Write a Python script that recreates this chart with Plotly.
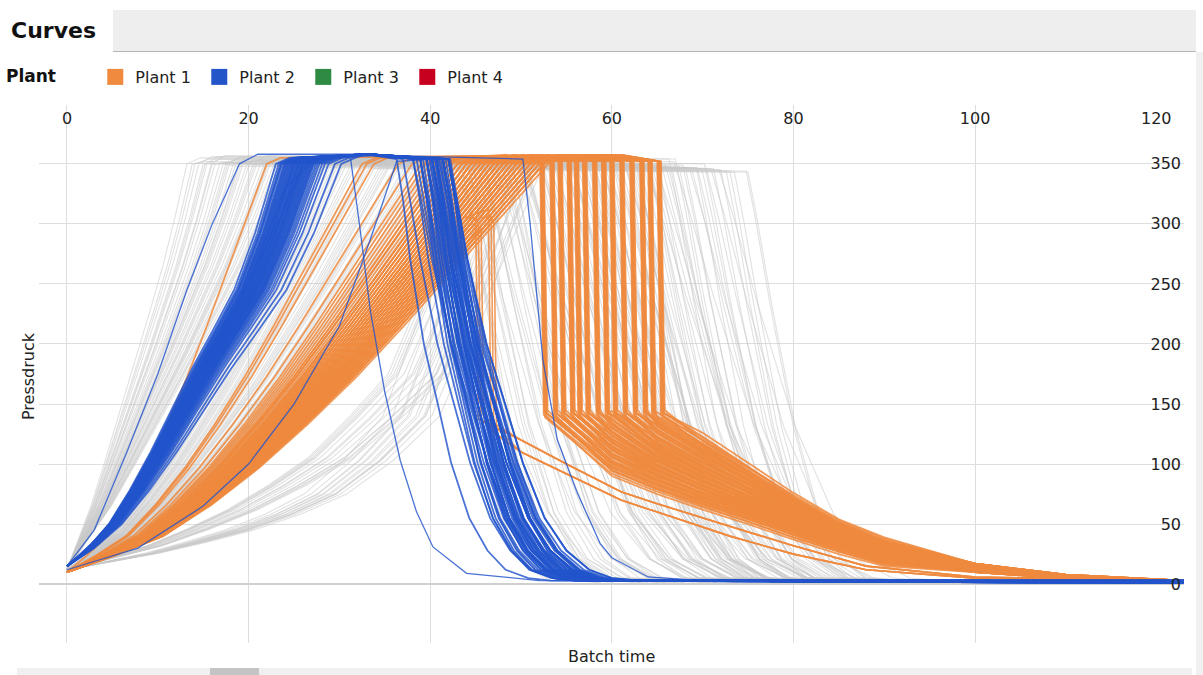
import plotly.graph_objects as go

# ---------------- axes / legend ----------------
X_TICKS = [0, 20, 40, 60, 80, 100, 120]
Y_TICKS = [0, 50, 100, 150, 200, 250, 300, 350]
PLANTS = ["Plant 1", "Plant 2", "Plant 3", "Plant 4"]
PLANT_COLORS = ["#ef8a3f", "#2354c8", "#2e8b43", "#c8001f"]

# ---------------- rise profiles (fraction of rise time -> Pressdruck) ----------------
RISE_U = [0, 0.1, 0.2, 0.3, 0.4, 0.5, 0.6, 0.7, 0.8, 0.9, 1.0]
RISE_BLUE = [15, 30, 50, 78, 110, 145, 180, 212, 245, 292, 350]
RISE_ORANGE = [10, 24, 40, 66, 97, 133, 172, 215, 260, 305, 350]
RISE_GREY_FAST = [12, 38, 65, 97, 130, 162, 195, 230, 265, 305, 350]
RISE_GREY_MID = [12, 26, 42, 68, 98, 133, 170, 212, 255, 302, 350]
RISE_GREY_SLOW = [12, 19, 26, 35, 45, 58, 75, 103, 140, 230, 350]
RISE_GREY_SLOW2 = [12, 22, 32, 46, 62, 82, 105, 138, 175, 255, 350]

# ---------------- Plant 2 (blue) ----------------
BLUE_RISE_END = [23.0, 23.3, 23.5, 23.7, 23.9, 24.1, 24.2, 24.4, 24.5, 24.7,
                 24.8, 25.0, 25.1, 25.2, 25.4, 25.5, 25.6, 25.8, 25.9, 26.0,
                 26.2, 26.3, 26.4, 26.6, 26.7, 26.9, 27.0, 27.2, 27.4, 27.6,
                 27.8, 28.1, 28.4, 24.3, 24.9, 25.3, 25.7, 26.1, 26.5, 26.8,
                 23.6, 24.0, 24.6, 25.0, 25.5, 26.0, 27.1, 28.8, 29.5, 30.2]
BLUE_DROP_START = [36.3, 37.0, 38.1, 38.1, 38.9, 38.9, 38.9, 39.6, 39.6, 39.6,
                   39.6, 40.2, 40.2, 40.2, 40.2, 40.2, 40.7, 40.7, 40.7, 40.7,
                   40.7, 41.4, 41.4, 41.4, 41.4, 41.4, 42.0, 42.0, 42.0, 42.0,
                   39.6, 40.2, 40.7, 41.4, 42.0, 38.9, 40.2, 40.7, 41.4, 42.0,
                   39.2, 40.0, 40.5, 41.0, 41.7, 42.2, 39.9, 40.9, 41.2, 38.5]
BLUE_DROP_DX = [
    [0, 0.7, 1.5, 3.0, 4.5, 6.0, 8.0, 10.0, 12.0, 14.5, 17.0],
    [0, 0.8, 1.9, 3.8, 5.6, 7.4, 9.6, 11.8, 14.0, 16.5, 19.0],
    [0, 0.75, 1.7, 3.4, 5.0, 6.7, 8.8, 10.9, 13.0, 15.5, 18.0],
    [0, 0.9, 2.1, 4.2, 6.2, 8.2, 10.6, 13.0, 15.5, 18.0, 21.0],
]
BLUE_DROP_Y = [354, 320, 270, 200, 151, 101, 55, 28, 12, 5, 3]
BLUE_TAIL = [1.0, 2.0, 3.0, 1.5, 2.5]

# blue outliers (explicit vertices)
BLUE_OUT_A_X = [0, 5, 10, 15, 20, 24, 27, 31.2, 32.2, 33.4, 35.0, 36.7, 38.5, 40.3, 44.0, 52.0, 123]
BLUE_OUT_A_Y = [15, 50, 110, 180, 250, 330, 352, 356, 300, 228, 160, 103, 60, 31, 9, 3, 2]
BLUE_OUT_B_X = [0, 5, 10, 15, 20, 23.5, 26, 28, 35, 50.2, 51.0, 52.4, 54.0, 56.2, 58.7, 60.0, 64.0, 70.0, 123]
BLUE_OUT_B_Y = [15, 50, 112, 182, 252, 305, 350, 355, 357, 354, 300, 187, 120, 76, 34, 22, 6, 3, 2]
BLUE_OUT_C_X = [0, 3, 6.6, 10, 13.2, 16, 19, 21, 26, 33, 39.5, 40.2, 41.0, 42.5, 44.0, 45.5, 47.5, 49.5, 51.5, 54.0, 56.5, 123]
BLUE_OUT_C_Y = [15, 45, 110, 175, 245, 300, 350, 358, 358, 358, 355, 320, 270, 200, 151, 101, 55, 28, 12, 5, 3, 2]
BLUE_OUT_D_X = [0, 7.8, 15, 20, 25, 30, 33.4, 36.3, 40.5, 41.3, 42.4, 44.3, 46.1, 47.9, 50.1, 52.3, 54.5, 57.0, 59.5, 123]
BLUE_OUT_D_Y = [12, 30, 65, 100, 150, 215, 287, 352, 354, 320, 270, 200, 151, 101, 55, 28, 12, 5, 3, 2]

# ---------------- Plant 1 (orange) ----------------
ORANGE_DROP_X = [52.1, 53.2, 54.1, 55.1, 55.9, 56.8, 57.9, 58.9, 59.8, 60.9, 62.0, 63.1, 64.0, 65.0]
ORANGE_RISE_END = [36.5, 39.5, 42.0, 44.0, 46.0, 47.5, 49.5,
                   38.0, 40.5, 43.0, 45.5, 47.0, 48.5, 50.5,
                   39.0, 41.5, 43.5, 46.5, 48.0, 49.0, 51.5,
                   40.0, 42.0, 44.5, 47.0, 48.5, 49.5, 52.0,
                   41.0, 43.0, 45.0, 47.5, 49.0, 50.0, 52.5,
                   41.5, 43.5, 45.5, 48.0, 49.5, 50.5, 53.0,
                   42.0, 44.0, 46.0, 48.5, 50.0, 51.0, 51.5,
                   42.5, 44.5, 46.5, 49.0, 51.0, 47.5, 52.5,
                   43.0, 45.0, 47.0, 49.5, 52.0, 44.5, 50.5,
                   43.5, 45.5, 47.5, 50.0, 48.0, 51.5, 46.0,
                   44.0, 46.0, 48.0, 50.5, 46.5, 52.5, 49.0,
                   44.5, 46.5, 48.5, 51.0, 47.0, 49.5, 45.5,
                   45.0, 47.0, 49.0, 51.5, 46.5, 50.0, 48.0,
                   45.5, 47.5, 49.5, 52.0, 50.0, 47.0, 51.0]
ORANGE_PAIR_DX = [0.0, 0.07, 0.14, 0.21, 0.28, 0.35, 0.42]
ORANGE_PAIR_BOTTOM = [141, 144, 139, 143, 140, 142, 145]
ORANGE_PAIR_DY = [0, 3, -3, 6, -5, 2, -1]
ORANGE_DECAY_X = [60, 65, 70, 75, 80, 85, 90, 100, 110, 123]
ORANGE_DECAY_Y = [
    [95, 80, 67, 55, 42, 30, 20, 10, 5, 3],
    [100, 84, 70, 57, 44, 32, 21, 11, 5, 3],
    [106, 88, 73, 60, 46, 33, 22, 11, 5, 3],
    [112, 92, 76, 62, 48, 35, 23, 12, 5, 3],
    [118, 96, 79, 65, 50, 36, 24, 12, 6, 3],
    [124, 100, 83, 68, 52, 38, 25, 13, 6, 3],
    [131, 105, 87, 71, 55, 39, 26, 13, 6, 3],
    [138, 110, 91, 74, 57, 41, 27, 14, 6, 3],
    [None, 115, 95, 77, 60, 42, 28, 14, 7, 3],
    [None, 120, 99, 81, 62, 44, 29, 15, 7, 3],
    [None, 126, 104, 84, 64, 45, 30, 16, 7, 3],
    [None, 132, 109, 88, 66, 46, 31, 16, 7, 3],
    [None, 137, 114, 91, 68, 47, 32, 17, 7, 3],
    [None, None, 120, 95, 70, 48, 33, 17, 8, 3],
]
# fast orange curves joining a drop group
ORANGE_FAST_RISE = [32.5, 33.0, 33.8, 22.0]
ORANGE_FAST_GROUP = [3, 7, 11, 5]
# orange curves dropping early (lower branch)
ORANGE_EARLY_RISE = [49.0, 50.0, 51.0, 48.5, 50.5, 52.0]
ORANGE_EARLY_DROP_X = [45.0, 45.3, 45.6, 46.4, 46.7, 47.0]
ORANGE_EARLY_TOP = [305, 300, 296, 312, 306, 300]
ORANGE_EARLY_BOTTOM = [138, 136, 139, 128, 126, 130]
ORANGE_EARLY_BRANCH = [0, 0, 0, 1, 1, 1]
ORANGE_EARLY_DECAY_X = [50, 55, 61, 65, 73, 80, 88, 100, 123]
ORANGE_EARLY_DECAY_Y = [
    [120, 100, 77, 67, 48, 32, 15, 6, 3],
    [110, 92, 70, 60, 40, 25, 12, 5, 3],
]

# ---------------- other plants (grey) ----------------
GREY_RISE_END = [13.2, 13.8, 14.5, 15.0, 15.4, 15.9, 16.3, 16.8, 17.2, 17.5, 17.9, 18.3, 18.6, 19.0,
                 19.4, 19.8, 20.1, 20.5, 20.9, 21.3, 21.7, 22.0, 22.4, 22.8, 23.1, 23.5, 23.9, 24.3,
                 24.8, 25.3, 25.9, 26.4, 26.9, 27.5, 28.0, 28.6, 29.1, 29.7, 30.2, 30.8, 31.3, 31.9,
                 32.4, 33.0, 33.5, 34.1, 34.6, 35.2, 35.7, 36.3, 36.8, 37.4, 37.9, 38.5, 39.0, 39.6,
                 40.1, 40.7, 41.2, 41.8, 42.3, 42.9,
                 43.5, 44.2, 44.8, 45.3, 45.9, 46.4, 46.9, 47.5, 48.0, 48.6, 49.1, 49.7, 50.2, 50.8,
                 51.3, 51.9, 47.2, 45.0, 49.4, 52.5,
                 14.1, 16.0, 17.7, 19.2, 20.7, 22.2, 23.7, 25.1, 26.6, 28.3, 29.9, 31.6, 33.2, 34.9,
                 36.5, 38.2, 39.8, 41.5, 43.0, 44.6, 46.1, 47.8, 49.3, 50.9, 15.2, 18.9, 21.9, 24.6,
                 27.8, 30.5, 32.7, 35.5, 37.7, 40.4, 42.6, 45.6, 48.4, 51.6, 26.2, 29.4]
GREY_DROP_START = [44.0, 61.5, 38.5, 52.3, 66.8, 47.1, 57.9, 41.2, 70.4, 49.6, 55.0, 63.7, 43.3, 59.2,
                   68.5, 46.0, 53.8, 39.8, 64.9, 50.7, 58.6, 45.2, 71.8, 54.4, 42.1, 62.3, 48.4, 56.7,
                   51.5, 67.4, 40.3, 58.1, 45.7, 63.2, 54.9, 69.9, 42.8, 60.6, 49.0, 65.5, 56.3, 44.5,
                   72.6, 52.8, 61.9, 47.3, 57.4, 68.1, 43.9, 55.8, 64.4, 50.2, 73.5, 59.7, 46.6, 66.2,
                   53.1, 62.8, 48.9, 70.9, 57.0, 60.1,
                   58.4, 65.1, 52.0, 69.3, 61.0, 55.2, 74.8, 63.5, 57.6, 67.8, 60.3, 71.2, 56.5, 64.0,
                   59.0, 66.6, 53.5, 50.0, 62.2, 75.0,
                   53.0, 45.5, 67.0, 58.8, 41.0, 62.7, 50.3, 69.4, 55.6, 47.7, 64.2, 58.0, 72.0, 51.9,
                   61.3, 45.9, 66.3, 56.1, 49.8, 63.9, 59.6, 70.2, 54.8, 62.6, 48.2, 60.2, 43.4, 65.9,
                   53.7, 57.3, 68.8, 50.5, 61.6, 55.4, 47.9, 73.0, 58.9, 64.6, 44.1, 52.4]
GREY_DROP_LEN = [16, 20, 14, 18, 22, 15, 19, 13, 17, 21, 16, 23, 14, 18, 20, 15, 19, 13, 22, 17,
                 16, 14, 21, 18, 15, 20, 17, 19,
                 18, 14, 21, 16, 19, 13, 22, 15, 17, 20, 14, 18, 23, 16, 13, 19, 15, 21, 17, 14,
                 20, 16, 18, 22, 13, 15, 19, 17, 21, 14, 16, 20, 18, 15,
                 17, 14, 20, 13, 18, 22, 13, 16, 19, 15, 21, 14, 18, 17, 20, 15, 19, 23, 16, 13,
                 15, 19, 14, 21, 17, 13, 20, 16, 18, 22, 15, 19, 14, 17, 21, 16, 13, 20, 18, 15,
                 22, 14, 19, 17, 16, 21, 13, 18, 20, 15, 17, 19, 14, 22, 16, 13, 18, 20, 15, 17]
GREY_PEAK = [355, 352, 356, 350, 354, 357, 351, 353, 348, 355, 352, 350, 356, 353, 349, 354, 351, 357,
             350, 353, 355, 352, 347, 354, 356, 351, 353, 355,
             354, 350, 356, 352, 355, 351, 353, 348, 357, 352, 354, 350, 353, 356, 346, 352, 355, 351,
             354, 349, 356, 353, 351, 355, 345, 352, 354, 350, 353, 351, 355, 348, 352, 353,
             353, 351, 355, 349, 352, 356, 346, 350, 354, 351, 353, 348, 355, 352, 350, 349, 354, 352,
             351, 345,
             354, 351, 356, 353, 350, 355, 352, 349, 357, 353, 351, 355, 347, 352, 354, 350, 356, 353,
             351, 355, 349, 352, 354, 350, 356, 352, 354, 351, 353, 355, 348, 352, 350, 354, 353, 346,
             351, 352, 355, 353]
GREY_DROP_FRAC_X = [0, 0.08, 0.2, 0.4, 0.6, 0.8, 1.0]
GREY_DROP_FRAC_Y = [1.0, 0.88, 0.68, 0.38, 0.17, 0.06, 0.015]

GREY_LINE = "rgba(200,200,200,0.55)"
ORANGE_LINE = "rgba(239,138,62,0.85)"
BLUE_LINE = "rgba(34,84,204,0.82)"

fig = go.Figure()


def add_curve(xs, ys, color, width):
    fig.add_trace(go.Scatter(x=xs, y=ys, mode="lines", showlegend=False, hoverinfo="skip",
                             line=dict(color=color, width=width)))


# grey curves
for i, (tr, td, L, pk) in enumerate(zip(GREY_RISE_END, GREY_DROP_START, GREY_DROP_LEN, GREY_PEAK)):
    if tr < 24.5:
        prof = RISE_GREY_FAST
    elif tr < 43.2:
        prof = RISE_GREY_MID
    else:
        prof = RISE_GREY_SLOW if i % 2 == 0 else RISE_GREY_SLOW2
    xs = [u * tr for u in RISE_U]
    ys = list(prof)
    xs += [tr + 1.5, td]
    ys += [pk, pk - 2]
    xs += [td + f * L for f in GREY_DROP_FRAC_X[1:]]
    ys += [(pk - 2) * f for f in GREY_DROP_FRAC_Y[1:]]
    xs += [td + L + 6]
    ys += [1.5]
    add_curve(xs, ys, GREY_LINE, 1.1)


def orange_main(tr, g, k):
    td = ORANGE_DROP_X[g] + ORANGE_PAIR_DX[k]
    xs = [u * tr for u in RISE_U]
    ys = list(RISE_ORANGE)
    xs.append(tr + 1.5); ys.append(355)
    if td - 4 > tr + 1.5:
        xs.append(td - 4); ys.append(357)
    xs.append(td); ys.append(352)
    xs.append(td + 0.4); ys.append(ORANGE_PAIR_BOTTOM[k])
    for x, y in zip(ORANGE_DECAY_X, ORANGE_DECAY_Y[g]):
        if y is not None and x > td + 0.4:
            xs.append(x); ys.append(y + ORANGE_PAIR_DY[k] if x < 100 else y)
    add_curve(xs, ys, ORANGE_LINE, 1.8)


# orange curves
n_pair = len(ORANGE_PAIR_DX)
for g in range(len(ORANGE_DROP_X)):
    for k in range(n_pair):
        orange_main(ORANGE_RISE_END[n_pair * g + k], g, k)
for tr, g in zip(ORANGE_FAST_RISE, ORANGE_FAST_GROUP):
    orange_main(tr, g, 1)
for tr, dx, top, bot, br in zip(ORANGE_EARLY_RISE, ORANGE_EARLY_DROP_X, ORANGE_EARLY_TOP,
                                ORANGE_EARLY_BOTTOM, ORANGE_EARLY_BRANCH):
    xs, ys = [], []
    for u, p in zip(RISE_U, RISE_ORANGE):
        if u * tr < dx:
            xs.append(u * tr); ys.append(p)
    xs += [dx, dx + 0.3]
    ys += [top, bot]
    xs += ORANGE_EARLY_DECAY_X
    ys += ORANGE_EARLY_DECAY_Y[br]
    add_curve(xs, ys, ORANGE_LINE, 1.6)

# blue curves
for i, (tr, td) in enumerate(zip(BLUE_RISE_END, BLUE_DROP_START)):
    dxs = BLUE_DROP_DX[i % len(BLUE_DROP_DX)]
    xs = [u * tr for u in RISE_U]
    ys = list(RISE_BLUE)
    xs.append(tr + 1.5); ys.append(355)
    if tr + 1.5 < 33 < td:
        xs.append(33); ys.append(358)
    xs += [td + d for d in dxs]
    ys += BLUE_DROP_Y
    xs.append(123); ys.append(BLUE_TAIL[i % len(BLUE_TAIL)])
    add_curve(xs, ys, BLUE_LINE, 1.8)
for xs, ys in [(BLUE_OUT_A_X, BLUE_OUT_A_Y), (BLUE_OUT_B_X, BLUE_OUT_B_Y),
               (BLUE_OUT_C_X, BLUE_OUT_C_Y), (BLUE_OUT_D_X, BLUE_OUT_D_Y)]:
    add_curve(xs, ys, BLUE_LINE, 1.3)

# legend entries
for name, col in zip(PLANTS, PLANT_COLORS):
    fig.add_trace(go.Scatter(x=[None], y=[None], mode="markers", name=name,
                             marker=dict(symbol="square", size=16, color=col)))

# ---------------- layout ----------------
L_PX, R_PX, T_PX, B_PX = 39, 1184, 105, 643
PW, PH = R_PX - L_PX, B_PX - T_PX


def px(x):
    return (x - L_PX) / PW


def py(y):
    return (B_PX - y) / PH


FONT = "DejaVu Sans"
NB = "\u00a0"
fig.update_layout(
    width=1203, height=675,
    margin=dict(l=L_PX, r=1203 - R_PX, t=T_PX, b=675 - B_PX, pad=0, autoexpand=False),
    paper_bgcolor="white", plot_bgcolor="white",
    font=dict(family=FONT, size=16, color="#222222"),
    hovermode=False,
    showlegend=True,
    legend=dict(orientation="h", x=px(4), y=py(77), xanchor="left", yanchor="middle",
                title=dict(text="<b>Plant</b>" + NB * 5 + "\u2005", font=dict(size=17, color="#111111")),
                font=dict(size=16, color="#222222"), bgcolor="rgba(0,0,0,0)",
                entrywidth=59, entrywidthmode="pixels", itemclick=False, itemdoubleclick=False),
    xaxis=dict(range=[-3.08, 123.0], side="top", ticklabelposition="inside", ticklabelstandoff=5,
               tickvals=X_TICKS, ticks="", showgrid=True, gridcolor="#dedede", gridwidth=1,
               zeroline=False, showline=False, tickfont=dict(size=16, color="#222222")),
    yaxis=dict(range=[-49, 399], side="right", ticklabelposition="inside",
               tickvals=Y_TICKS, ticks="", showgrid=True, gridcolor="#dedede", gridwidth=1,
               zeroline=True, zerolinecolor="#d0d0d0", zerolinewidth=2, showline=False,
               tickfont=dict(size=16, color="#222222")),
    annotations=[
        dict(text="<b>Curves</b>", x=px(9), y=py(31), xref="paper", yref="paper",
             xanchor="left", yanchor="middle", showarrow=False,
             font=dict(size=22, color="#111111", family=FONT)),
        dict(text="Pressdruck", x=px(28), y=py(376), xref="paper", yref="paper",
             xanchor="center", yanchor="middle", textangle=-90, showarrow=False,
             font=dict(size=16, color="#222222", family=FONT)),
        dict(text="Batch time", x=px(611), y=py(656), xref="paper", yref="paper",
             xanchor="center", yanchor="middle", showarrow=False,
             font=dict(size=16, color="#222222", family=FONT)),
        dict(text=str(X_TICKS[-1]), x=X_TICKS[-1], y=py(118), xref="x", yref="paper",
             xanchor="center", yanchor="middle", showarrow=False,
             font=dict(size=16, color="#222222", family=FONT)),
    ],
    shapes=[
        dict(type="rect", xref="paper", yref="paper", x0=px(113), x1=px(1196), y0=py(51), y1=py(10),
             fillcolor="#eeeeee", line=dict(width=0)),
        dict(type="line", xref="paper", yref="paper", x0=px(113), x1=px(1196), y0=py(51.5), y1=py(51.5),
             line=dict(color="#b5b5b5", width=1)),
        dict(type="rect", xref="paper", yref="paper", x0=px(1196), x1=px(1203), y0=py(675), y1=py(52),
             fillcolor="#f0f0f0", line=dict(width=0)),
        dict(type="rect", xref="paper", yref="paper", x0=px(17), x1=px(1192), y0=py(676), y1=py(668),
             fillcolor="#f0f0f0", line=dict(width=0)),
        dict(type="rect", xref="paper", yref="paper", x0=px(210), x1=px(259), y0=py(676), y1=py(668),
             fillcolor="#c4c4c4", line=dict(width=0)),
    ],
)

fig.write_html("out.html", config={"displayModeBar": False})
